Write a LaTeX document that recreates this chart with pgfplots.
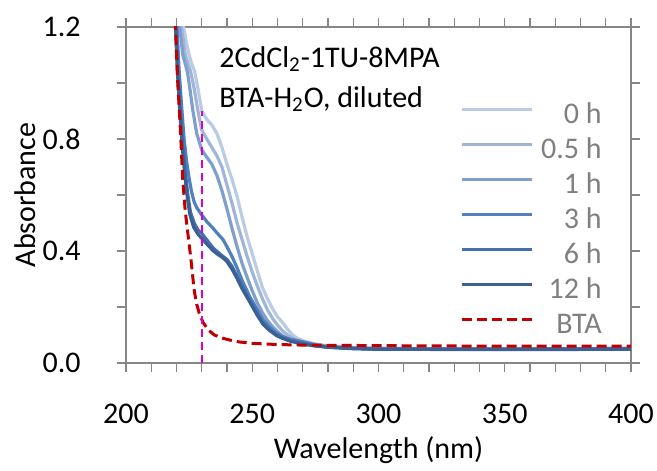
\documentclass[border=0pt]{standalone}
\usepackage{fontspec}
\setmainfont{Carlito}
\usepackage{pgfplots}
\pgfplotsset{compat=1.18}
\definecolor{c0}{RGB}{185,203,229}
\definecolor{c05}{RGB}{160,182,217}
\definecolor{c1}{RGB}{128,159,206}
\definecolor{c3}{RGB}{80,128,189}
\definecolor{c6}{RGB}{68,112,172}
\definecolor{c12}{RGB}{58,96,148}
\definecolor{bta}{RGB}{192,0,0}
\definecolor{mag}{RGB}{214,0,214}
\definecolor{axgray}{RGB}{134,134,134}
\definecolor{leggray}{RGB}{127,127,127}
\newcommand{\fs}{\fontsize{15}{18}\selectfont}
\begin{document}
\begin{tikzpicture}
\begin{axis}[
  scale only axis, width=252.5pt, height=168pt,
  xmin=200, xmax=400, ymin=0, ymax=1.2,
  xtick={200,250,300,350,400}, ytick={0,0.4,0.8,1.2},
  minor x tick num=4, minor y tick num=1,
  axis line style={axgray, line width=0.9pt},
  every tick/.style={axgray, line width=0.6pt},
  tick align=outside,
  major tick length=4.5pt, minor tick length=4.5pt,
  ticklabel style={font=\fs, black},
  xticklabel style={anchor=north, inner sep=0pt, yshift=-16pt},
  yticklabel style={anchor=east, inner sep=0pt, xshift=-18pt,
    /pgf/number format/.cd, fixed, fixed zerofill, precision=1},
  /pgf/number format/assume math mode=true,
  /pgf/number format/1000 sep={},
  xlabel={Wavelength (nm)}, ylabel={Absorbance},
  every axis x label/.style={at={(axis description cs:0.5,0)}, anchor=center, yshift=-43.5pt, font=\fs},
  every axis y label/.style={at={(axis description cs:-0.2,0.5)}, anchor=center, rotate=90, font=\fs},
  legend style={draw=none, fill=none, font=\fs, text=leggray,
    at={(axis cs:332.1,0.936)}, anchor=north west, inner sep=0pt,
    row sep=6.55pt,
    nodes={inner sep=0pt, text height=11pt, text depth=0pt},
    /tikz/every odd column/.append style={column sep=3.6pt}},
  legend cell align=right,
  legend image code/.code={\draw[#1] (0pt,1.5pt) -- (35.4pt,1.5pt);},
]
\addplot[c0, line width=1.6pt] coordinates {
(221,1.5)(222,1.28)(223,1.19)(224,1.14)(225,1.1)(226,1.07)(227.2,1.04)(228.5,0.98)(230,0.9)(232,0.87)(234,0.85)(236,0.82)(238,0.77)(240,0.71)(242,0.655)(244,0.595)(246,0.52)(248,0.45)(250,0.39)(252,0.33)(254,0.27)(256,0.23)(258,0.195)(260,0.165)(262,0.145)(264,0.12)(266,0.1)(268,0.088)(270,0.08)(275,0.068)(280,0.061)(290,0.056)(300,0.053)(320,0.051)(350,0.05)(400,0.052)};
\addlegendentry{0 h}
\addplot[c05, line width=1.6pt] coordinates {
(220,1.6)(221,1.35)(221.9,1.2)(223.5,1.1)(225.6,1.04)(227,0.98)(228.5,0.9)(230,0.832)(232,0.8)(234,0.77)(236,0.74)(238,0.70)(240,0.635)(242,0.57)(244,0.5)(246,0.44)(248,0.38)(250,0.325)(252,0.275)(254,0.23)(256,0.19)(258,0.16)(260,0.135)(262,0.115)(264,0.1)(266,0.088)(268,0.08)(270,0.073)(275,0.064)(280,0.06)(290,0.055)(300,0.052)(350,0.05)(400,0.052)};
\addlegendentry{0.5 h}
\addplot[c1, line width=1.6pt] coordinates {
(219.5,1.6)(220.5,1.3)(221.3,1.2)(222.5,1.1)(224.3,1.04)(225.3,0.98)(226.5,0.9)(228,0.82)(230,0.761)(232,0.735)(234,0.71)(236,0.67)(238,0.615)(240,0.55)(242,0.48)(244,0.415)(246,0.355)(248,0.305)(250,0.258)(252,0.215)(254,0.18)(256,0.152)(258,0.13)(260,0.112)(262,0.097)(264,0.087)(266,0.078)(268,0.072)(270,0.067)(275,0.061)(280,0.057)(290,0.053)(300,0.05)(350,0.05)(400,0.052)};
\addlegendentry{1 h}
\addplot[c3, line width=1.6pt] coordinates {
(218.5,1.6)(219.5,1.3)(220.2,1.2)(221,1.05)(222,0.92)(223,0.8)(224,0.72)(225,0.66)(226,0.61)(227,0.575)(228,0.555)(230,0.529)(232,0.505)(234.6,0.48)(236.5,0.46)(238.5,0.44)(240,0.415)(242,0.38)(243.8,0.344)(246,0.295)(249,0.237)(252,0.19)(254.3,0.154)(257,0.127)(259.6,0.107)(262,0.095)(265,0.085)(270,0.076)(275,0.065)(280,0.058)(290,0.053)(300,0.05)(350,0.05)(400,0.052)};
\addlegendentry{3 h}
\addplot[c6, line width=1.6pt] coordinates {
(218,1.6)(219,1.3)(219.8,1.2)(220.5,1.05)(221.5,0.9)(222.5,0.78)(223.5,0.68)(224.5,0.6)(225.5,0.54)(227,0.5)(228.5,0.475)(230,0.463)(232,0.44)(234.6,0.41)(236.5,0.395)(238.5,0.38)(240,0.37)(242,0.345)(243.8,0.314)(246,0.275)(249,0.225)(252,0.175)(254.3,0.142)(257,0.118)(259.6,0.1)(262,0.09)(265,0.08)(270,0.07)(275,0.062)(280,0.057)(290,0.052)(300,0.05)(350,0.049)(400,0.05)};
\addlegendentry{6 h}
\addplot[c12, line width=1.6pt] coordinates {
(217.8,1.6)(218.8,1.3)(219.6,1.2)(220.3,1.05)(221.3,0.9)(222.3,0.77)(223.3,0.67)(224.3,0.59)(225.3,0.53)(226.8,0.485)(228.5,0.46)(230,0.445)(232,0.425)(234.6,0.40)(236.5,0.387)(238.5,0.375)(240,0.362)(242,0.335)(243.8,0.305)(246,0.265)(249,0.218)(252,0.17)(254.3,0.138)(257,0.115)(259.6,0.098)(262,0.088)(265,0.078)(270,0.068)(275,0.061)(280,0.056)(290,0.051)(300,0.049)(350,0.048)(400,0.049)};
\addlegendentry{12 h}
\addplot[bta, line width=1.5pt, dash pattern=on 5pt off 2.5pt] coordinates {
(218.5,1.6)(219.6,1.2)(220.5,1.0)(221.4,0.86)(222.5,0.65)(223.4,0.55)(224,0.5)(225.6,0.38)(227,0.26)(228,0.21)(229,0.178)(230.5,0.145)(232.6,0.118)(235,0.1)(238.5,0.088)(242,0.08)(245,0.075)(250.4,0.07)(260,0.066)(270,0.064)(300,0.062)(350,0.06)(400,0.06)};
\addlegendentry{BTA}
\addplot[mag, line width=1.1pt, dash pattern=on 4pt off 2.5pt, forget plot] coordinates {(230,0) (230,0.9)};
\node[anchor=base west, font=\fs, inner sep=0pt] at (axis cs:236.8,1.056) {2CdCl\textsubscript{2}-1TU-8MPA};
\node[anchor=base west, font=\fs, inner sep=0pt] at (axis cs:236.8,0.9125) {BTA-H\textsubscript{2}O, diluted};
\end{axis}
\path[use as bounding box] ([shift={(-63pt,-50.5pt)}]current axis.south west) rectangle ([shift={(13pt,13.5pt)}]current axis.north east);
\end{tikzpicture}
\end{document}
